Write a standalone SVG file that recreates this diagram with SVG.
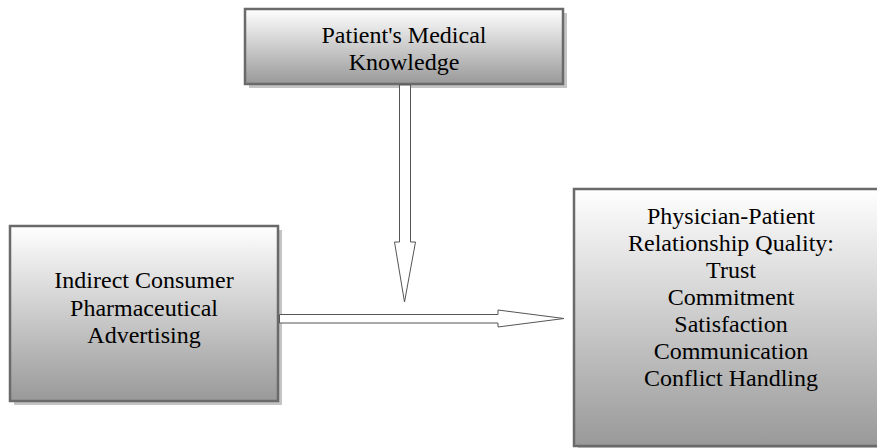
<svg xmlns="http://www.w3.org/2000/svg" width="877" height="448" viewBox="0 0 877 448">
  <defs>
    <linearGradient id="grad" x1="0" y1="0" x2="0" y2="1">
      <stop offset="0" stop-color="#ffffff"/>
      <stop offset="1" stop-color="#999999"/>
    </linearGradient>
  </defs>
  <style>
    .shadow { fill: #c4c4c4; stroke: none; }
    .box { fill: url(#grad); stroke: #6a6a6a; stroke-width: 2.5; }
    .label { fill: #000; text-anchor: middle; }
    .arrow { fill: #ffffff; stroke: #555555; stroke-width: 1; stroke-linejoin: miter; }
  </style>
  <rect width="877" height="448" fill="#ffffff"/>

  <g id="node-knowledge">
    <rect class="shadow" x="249" y="13" width="318" height="75"/>
    <rect class="box" x="245" y="9" width="318" height="75"/>
  </g>
  <text class="label" style="font-family: 'Liberation Serif', serif; font-size: 24px" x="404" y="43">Patient's Medical</text>
  <text class="label" style="font-family: 'Liberation Serif', serif; font-size: 24px" x="404" y="70">Knowledge</text>

  <g id="node-advertising">
    <rect class="shadow" x="14" y="230" width="268" height="175"/>
    <rect class="box" x="10" y="226" width="268" height="175"/>
  </g>
  <text class="label" style="font-family: 'Liberation Serif', serif; font-size: 24px" x="144" y="288">Indirect Consumer</text>
  <text class="label" style="font-family: 'Liberation Serif', serif; font-size: 24px" x="144" y="316">Pharmaceutical</text>
  <text class="label" style="font-family: 'Liberation Serif', serif; font-size: 24px" x="144" y="343">Advertising</text>

  <g id="node-relationship">
    <rect class="shadow" x="578" y="193" width="320" height="260"/>
    <rect class="box" x="574" y="189" width="320" height="257"/>
  </g>
  <text class="label" style="font-family: 'Liberation Serif', serif; font-size: 24px" x="731" y="224">Physician-Patient</text>
  <text class="label" style="font-family: 'Liberation Serif', serif; font-size: 24px" x="731" y="251">Relationship Quality:</text>
  <text class="label" style="font-family: 'Liberation Serif', serif; font-size: 24px" x="731" y="278">Trust</text>
  <text class="label" style="font-family: 'Liberation Serif', serif; font-size: 24px" x="731" y="305">Commitment</text>
  <text class="label" style="font-family: 'Liberation Serif', serif; font-size: 24px" x="731" y="332">Satisfaction</text>
  <text class="label" style="font-family: 'Liberation Serif', serif; font-size: 24px" x="731" y="359">Communication</text>
  <text class="label" style="font-family: 'Liberation Serif', serif; font-size: 24px" x="731" y="386">Conflict Handling</text>

  <g id="connectors">
    <polygon class="arrow" points="399.5,85 410.5,85 410.5,242 415.5,242 404.5,302 394.5,242 399.5,242"/>
    <polygon class="arrow" points="279.5,314.5 498,314.5 498,310 564,318.5 498,327 498,323 279.5,323"/>
  </g>
</svg>
